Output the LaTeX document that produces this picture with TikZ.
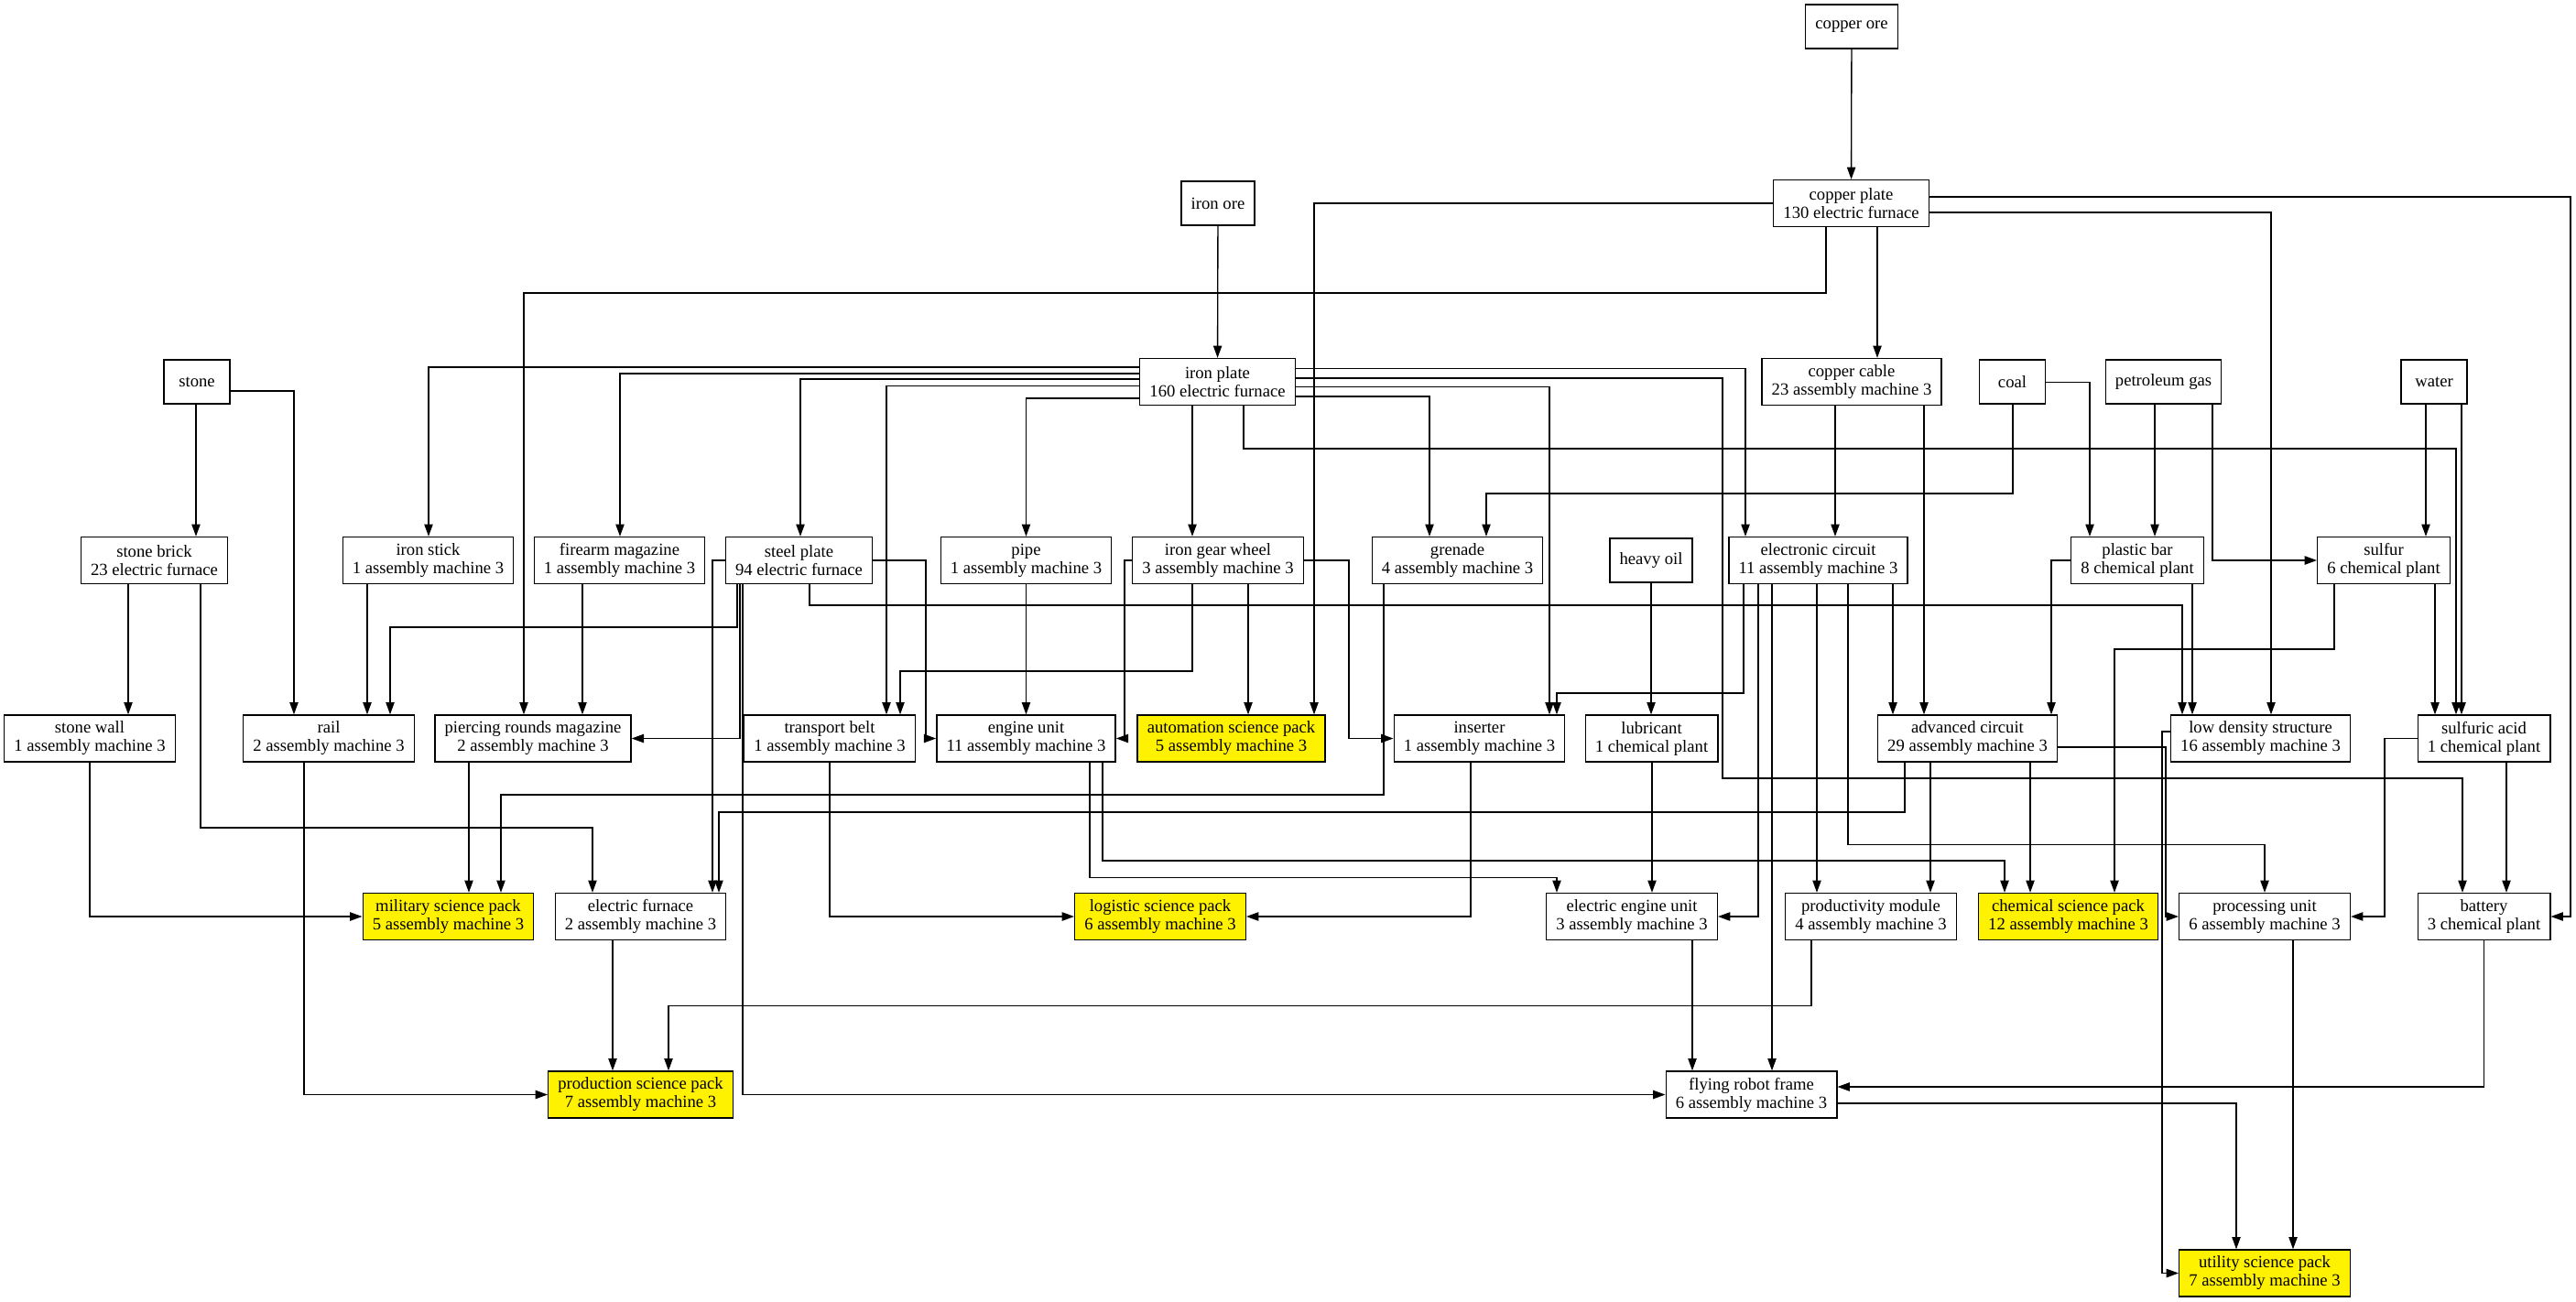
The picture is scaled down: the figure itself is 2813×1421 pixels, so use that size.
\documentclass[tikz,border=0pt]{standalone}
\usepackage{fontspec}
\setmainfont{Liberation Serif}
\usetikzlibrary{arrows.meta}
\begin{document}
\begin{tikzpicture}[x=0.5pt,y=-0.5pt,
  box/.style={draw,line width=0.67pt,rectangle,inner xsep=5.33pt,inner ysep=0pt,minimum height=25.5pt,align=center,font=\fontsize{9.33}{10}\selectfont},
  one/.style={box,minimum height=24pt,minimum width=36pt},
  sci/.style={box,fill=yellow},
  e/.style={draw,line width=0.67pt,-{Triangle[length=6.65pt,width=4.65pt]}}]
\useasboundingbox[fill=white] (0,0) rectangle (2813,1421);
% row 0/1
\node[one] (cuore) at (2022,29) {copper ore};
\node[one] (feore) at (1330,222) {iron ore};
\node[box] (cuplate) at (2021.5,222) {copper plate\\130 electric furnace};
% row 2
\node[one] (stone) at (215,417) {stone};
\node[box] (feplate) at (1329.5,417) {iron plate\\160 electric furnace};
\node[box] (cucable) at (2022,417) {copper cable\\23 assembly machine 3};
\node[one] (coal) at (2197.5,417) {coal};
\node[one] (pgas) at (2362.5,417) {petroleum gas};
\node[one] (water) at (2658,417) {water};
% row 3
\node[box] (sbrick) at (168.5,612) {stone brick\\23 electric furnace};
\node[box] (istick) at (467.5,612) {iron stick\\1 assembly machine 3};
\node[box] (fm) at (676.5,612) {firearm magazine\\1 assembly machine 3};
\node[box] (steel) at (872.5,612) {steel plate\\94 electric furnace};
\node[box] (pipe) at (1120.5,612) {pipe\\1 assembly machine 3};
\node[box] (gear) at (1330,612) {iron gear wheel\\3 assembly machine 3};
\node[box] (gren) at (1591.5,612) {grenade\\4 assembly machine 3};
\node[one] (hoil) at (1803,612) {heavy oil};
\node[box] (ec) at (1985.5,612) {electronic circuit\\11 assembly machine 3};
\node[box] (plastic) at (2334,612) {plastic bar\\8 chemical plant};
\node[box] (sulfur) at (2603,612) {sulfur\\6 chemical plant};
% row 4
\node[box] (swall) at (98,806.5) {stone wall\\1 assembly machine 3};
\node[box] (rail) at (359,806.5) {rail\\2 assembly machine 3};
\node[box] (prm) at (582,806.5) {piercing rounds magazine\\2 assembly machine 3};
\node[box] (tb) at (906,806.5) {transport belt\\1 assembly machine 3};
\node[box] (engine) at (1120.5,806.5) {engine unit\\11 assembly machine 3};
\node[sci] (asp) at (1344.5,806.5) {automation science pack\\5 assembly machine 3};
\node[box] (ins) at (1615.5,806.5) {inserter\\1 assembly machine 3};
\node[box] (lub) at (1803.5,806.5) {lubricant\\1 chemical plant};
\node[box] (ac) at (2148.5,806.5) {advanced circuit\\29 assembly machine 3};
\node[box] (lds) at (2468.5,806.5) {low density structure\\16 assembly machine 3};
\node[box] (sacid) at (2712.5,806.5) {sulfuric acid\\1 chemical plant};
% row 5
\node[sci] (msp) at (489.5,1001) {military science pack\\5 assembly machine 3};
\node[box] (efurn) at (699.5,1001) {electric furnace\\2 assembly machine 3};
\node[sci] (lsp) at (1267,1001) {logistic science pack\\6 assembly machine 3};
\node[box] (eeu) at (1782,1001) {electric engine unit\\3 assembly machine 3};
\node[box] (pmod) at (2043,1001) {productivity module\\4 assembly machine 3};
\node[sci] (csp) at (2258.5,1001) {chemical science pack\\12 assembly machine 3};
\node[box] (pu) at (2473,1001) {processing unit\\6 assembly machine 3};
\node[box] (battery) at (2712.5,1001) {battery\\3 chemical plant};
% row 6/7
\node[sci] (psp) at (699.5,1195.5) {production science pack\\7 assembly machine 3};
\node[box] (frf) at (1912.5,1195.5) {flying robot frame\\6 assembly machine 3};
\node[sci] (usp) at (2473,1390.5) {utility science pack\\7 assembly machine 3};
% edges
\draw[e] (cuore) -- (cuplate);
\draw[e] (feore) -- (feplate);
\draw[e] (cuplate.south -| 1994,0) |- (572,320) -- (prm.north -| 572,0);
\draw[e] (cuplate.west) -| (asp.north -| 1435,0);
\draw[e] (cuplate.south -| 2050,0) -- (cucable.north -| 2050,0);
\draw[e] (cuplate.east |- 0,232) -| (lds.north -| 2480,0);
\draw[e] (cuplate.east |- 0,215) -| (battery.east -| 2807,0) -- (battery.east);
\draw[e] (feplate.west |- 0,401) -| (istick.north -| 468,0);
\draw[e] (feplate.west |- 0,408) -| (fm.north -| 677,0);
\draw[e] (feplate.west |- 0,414) -| (steel.north -| 874,0);
\draw[e] (feplate.west |- 0,421.5) -| (tb.north -| 968,0);
\draw[e] (feplate.west |- 0,435) -| (pipe.north);
\draw[e] (feplate.south -| 1302,0) -- (gear.north -| 1302,0);
\draw[e] (feplate.south -| 1358,0) |- (2682,490) -- (sacid.north -| 2682,0);
\draw[e] (feplate.east |- 0,402.5) -| (ec.north -| 1906,0);
\draw[e] (feplate.east |- 0,413) -| (1881,850) -| (battery.north -| 2689,0);
\draw[e] (feplate.east |- 0,422.5) -| (ins.north -| 1692,0);
\draw[e] (feplate.east |- 0,433) -| (gren.north -| 1561,0);
\draw[e] (stone.south -| 214,0) -- (sbrick.north -| 214,0);
\draw[e] (stone.east |- 0,427) -| (rail.north -| 321,0);
\draw[e] (coal.south -| 2198,0) |- (1623,539) -- (gren.north -| 1623,0);
\draw[e] (coal.east |- 0,417.5) -| (plastic.north -| 2282,0);
\draw[e] (pgas.south -| 2353,0) -- (plastic.north -| 2353,0);
\draw[e] (pgas.south -| 2416,0) |- (sulfur.west);
\draw[e] (water.south -| 2649,0) -- (sulfur.north -| 2649,0);
\draw[e] (water.south -| 2688,0) -- (sacid.north -| 2688,0);
\draw[e] (cucable.south -| 2004,0) -- (ec.north -| 2004,0);
\draw[e] (cucable.south -| 2101,0) -- (ac.north -| 2101,0);
\draw[e] (sbrick.south -| 140,0) -- (swall.north -| 140,0);
\draw[e] (sbrick.south -| 219,0) |- (647,904) -- (efurn.north -| 647,0);
\draw[e] (istick.south -| 401,0) -- (rail.north -| 401,0);
\draw[e] (fm.south -| 636,0) -- (prm.north -| 636,0);
\draw[e] (steel.south -| 805,0) |- (426,685) -- (rail.north -| 426,0);
\draw[e] (steel.south -| 808,0) |- (prm.east);
\draw[e] (steel.south -| 811,0) |- (frf.west);
\draw[e] (steel.west) -| (efurn.north -| 778,0);
\draw[e] (steel.east) -| (engine.west -| 1011,0) -- (engine.west);
\draw[e] (steel.south -| 884,0) |- (2383,661) -- (lds.north -| 2383,0);
\draw[e] (pipe.south) -- (engine.north);
\draw[e] (gear.south -| 1302,0) |- (983,733) -- (tb.north -| 983,0);
\draw[e] (gear.south -| 1363,0) -- (asp.north -| 1363,0);
\draw[e] (gear.west) -| (engine.east -| 1228,0) -- (engine.east);
\draw[e] (gear.east) -| (ins.west -| 1473,0) -- (ins.west);
\draw[e] (gren.south -| 1511,0) |- (547,868) -- (msp.north -| 547,0);
\draw[e] (hoil.south -| 1803,0) -- (lub.north -| 1803,0);
\draw[e] (lub.south -| 1804,0) -- (eeu.north -| 1804,0);
\draw[e] (plastic.west) -| (ac.north -| 2240,0);
\draw[e] (plastic.south -| 2394,0) -- (lds.north -| 2394,0);
\draw[e] (sulfur.south -| 2549,0) |- (2309,709) -- (csp.north -| 2309,0);
\draw[e] (sulfur.south -| 2659,0) -- (sacid.north -| 2659,0);
\draw[e] (ec.south -| 1904,0) |- (1700,757) -- (ins.north -| 1700,0);
\draw[e] (ec.south -| 1920,0) |- (eeu.east);
\draw[e] (ec.south -| 1935,0) -- (frf.north -| 1935,0);
\draw[e] (ec.south -| 1984,0) -- (pmod.north -| 1984,0);
\draw[e] (ec.south -| 2018,0) |- (2473,922.6) -- (pu.north);
\draw[e] (ec.south -| 2067,0) -- (ac.north -| 2067,0);
\draw[e] (ac.south -| 2080,0) |- (785,887) -- (efurn.north -| 785,0);
\draw[e] (ac.south -| 2108,0) -- (pmod.north -| 2108,0);
\draw[e] (ac.south -| 2217,0) -- (csp.north -| 2217,0);
\draw[e] (ac.east |- 0,816) -| (pu.west -| 2365,0) -- (pu.west);
\draw[e] (lds.west |- 0,799) -| (usp.west -| 2361,0) -- (usp.west);
\draw[e] (sacid.west) -| (pu.east -| 2604,0) -- (pu.east);
\draw[e] (sacid.south -| 2737,0) -- (battery.north -| 2737,0);
\draw[e] (pmod.south -| 1978,0) |- (730,1098.6) -- (psp.north -| 730,0);
\draw[e] (efurn.south -| 669,0) -- (psp.north -| 669,0);
\draw[e] (rail.south -| 332,0) |- (psp.west);
\draw[e] (swall.south) |- (msp.west);
\draw[e] (prm.south -| 512,0) -- (msp.north -| 512,0);
\draw[e] (tb.south) |- (lsp.west);
\draw[e] (ins.south -| 1606,0) |- (lsp.east);
\draw[e] (engine.south -| 1190,0) |- (1700,958.5) -- (eeu.north -| 1700,0);
\draw[e] (engine.south -| 1204,0) |- (2189,940) -- (csp.north -| 2189,0);
\draw[e] (eeu.south -| 1848,0) -- (frf.north -| 1848,0);
\draw[e] (battery.south) |- (frf.east |- 0,1187);
\draw[e] (frf.east |- 0,1205) -| (usp.north -| 2442,0);
\draw[e] (pu.south -| 2504,0) -- (usp.north -| 2504,0);
\end{tikzpicture}
\end{document}
